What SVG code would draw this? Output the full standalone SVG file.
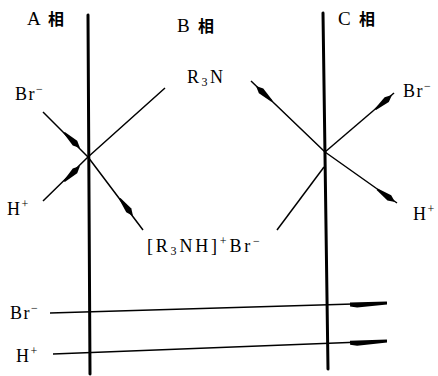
<svg xmlns="http://www.w3.org/2000/svg" xmlns:xlink="http://www.w3.org/1999/xlink" width="438" height="376" viewBox="0 0 438 376">
<style>
.t{font-family:"Liberation Serif","Times New Roman",serif;font-size:18px;fill:#000;letter-spacing:1.5px}
.cj{font-family:"Noto Sans CJK SC","Noto Sans CJK JP",sans-serif;font-size:16px;font-weight:700;fill:#000}
.s{font-size:12px}
.phase{stroke:#000;stroke-width:3;fill:none;stroke-linecap:round}
.ln{stroke:#000;stroke-width:1.5;fill:none;stroke-linejoin:round}
.ah{fill:#000}
</style>
<defs>
<path id="ah" d="M0,0 L-7,-3.2 L-22,-0.9 L-22,0.9 L-7,3.2 Z"/>
<path id="bar" d="M0,-1.6 L0,1.6 L-30,3.6 L-37,2.4 L-37,-1.6 Z"/>
</defs>
<rect width="438" height="376" fill="#fff"/>
<g id="phaseA">
<line class="phase" x1="88" y1="15" x2="90" y2="374"/>
<text class="t" x="27" y="25" style="font-size:19px">A</text><text class="cj" x="48" y="25">相</text>
</g>
<g id="phaseB">
<text class="t" x="177" y="32" style="font-size:19px">B</text><text class="cj" x="198" y="32">相</text>
</g>
<g id="phaseC">
<line class="phase" x1="323" y1="13" x2="328" y2="369"/>
<text class="t" x="338" y="25" style="font-size:19px">C</text><text class="cj" x="359" y="25">相</text>
</g>
<g id="connectors">
<polyline class="ln" points="43,112 88,157 143,230"/>
<polyline class="ln" points="43,201 88,157 165,88"/>
<polyline class="ln" points="251,81 325,152 397,203"/>
<polyline class="ln" points="394,93 325,152"/>
<polyline class="ln" points="277,230 324,167"/>
<line class="ln" x1="50" y1="313" x2="387" y2="303"/>
<line class="ln" x1="53" y1="354" x2="387" y2="341"/>
<use class="ah" href="#ah" transform="translate(80,148) rotate(44)"/>
<use class="ah" href="#ah" transform="translate(80,166) rotate(-44)"/>
<use class="ah" href="#ah" transform="translate(133,216) rotate(53)"/>
<use class="ah" href="#ah" transform="translate(256,86) rotate(223.5)"/>
<use class="ah" href="#ah" transform="translate(392,95) rotate(-41)"/>
<use class="ah" href="#ah" transform="translate(395,202) rotate(35.7)"/>
<use class="ah" href="#bar" transform="translate(387,303) rotate(-1.7)"/>
<use class="ah" href="#bar" transform="translate(387,341) rotate(-2.2)"/>
</g>
<g id="BrA"><text class="t" x="15" y="100">Br<tspan class="s" dy="-7">−</tspan></text></g>
<g id="HA"><text class="t" x="7" y="215">H<tspan class="s" dy="-7">+</tspan></text></g>
<g id="R3N"><text class="t" x="187" y="83" style="letter-spacing:2.5px">R<tspan class="s" dy="3">3</tspan><tspan dy="-3">N</tspan></text></g>
<g id="R3NHBr"><text class="t" x="147" y="252" style="letter-spacing:2.8px">[R<tspan class="s" dy="3">3</tspan><tspan dy="-3">NH]</tspan><tspan class="s" dy="-7">+</tspan><tspan dy="7">Br</tspan><tspan class="s" dy="-7">−</tspan></text></g>
<g id="BrC"><text class="t" x="403" y="97">Br<tspan class="s" dy="-7">−</tspan></text></g>
<g id="HC"><text class="t" x="413" y="220">H<tspan class="s" dy="-7">+</tspan></text></g>
<g id="BrBottom"><text class="t" x="10" y="319">Br<tspan class="s" dy="-7">−</tspan></text></g>
<g id="HBottom"><text class="t" x="16" y="362">H<tspan class="s" dy="-7">+</tspan></text></g>
</svg>
